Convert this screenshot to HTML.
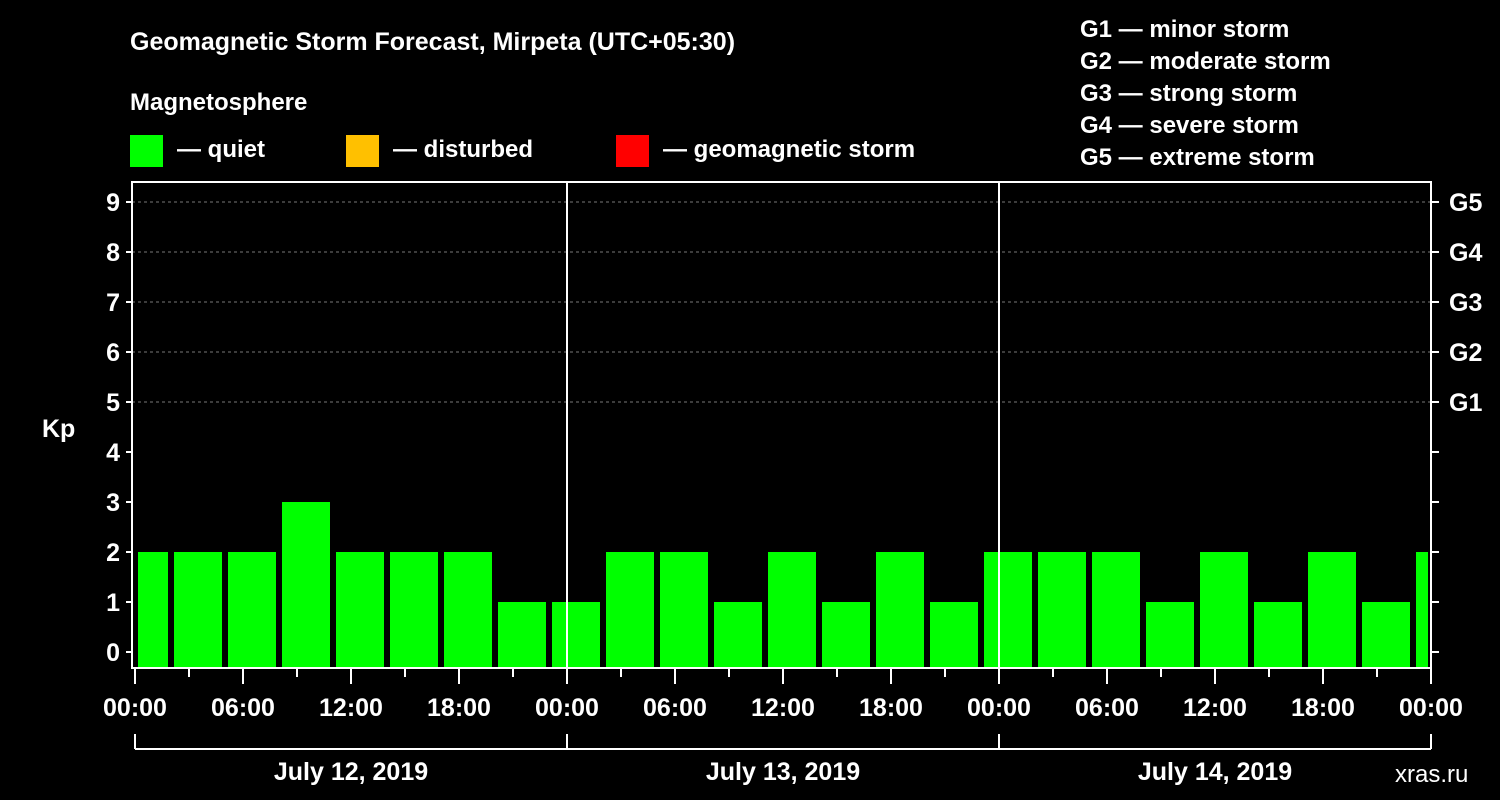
<!DOCTYPE html>
<html><head><meta charset="utf-8"><style>
body{margin:0;background:#000;}
svg{display:block;font-family:"Liberation Sans",sans-serif;font-weight:bold;}
</style></head><body>
<svg id="c" width="1500" height="800" viewBox="0 0 1500 800">
<rect width="1500" height="800" fill="#000"/>
<text x="130" y="50" fill="#fff" font-size="25">Geomagnetic Storm Forecast, Mirpeta (UTC+05:30)</text>
<text x="130" y="110" fill="#fff" font-size="24">Magnetosphere</text>
<g><rect x="130" y="135" width="33" height="32" fill="#00ff00"/><text x="177" y="157" fill="#fff" font-size="24">— quiet</text></g>
<g><rect x="346" y="135" width="33" height="32" fill="#ffc000"/><text x="393" y="157" fill="#fff" font-size="24">— disturbed</text></g>
<g><rect x="616" y="135" width="33" height="32" fill="#ff0000"/><text x="663" y="157" fill="#fff" font-size="24">— geomagnetic storm</text></g>
<g fill="#fff" font-size="24">
<text x="1080" y="37">G1 — minor storm</text>
<text x="1080" y="69">G2 — moderate storm</text>
<text x="1080" y="101">G3 — strong storm</text>
<text x="1080" y="133">G4 — severe storm</text>
<text x="1080" y="165">G5 — extreme storm</text>
</g>
<text x="42" y="437" fill="#fff" font-size="25">Kp</text>
<text x="1395" y="782" fill="#fff" font-size="24" font-weight="normal">xras.ru</text>
<g id="g"></g>
</svg>
<script>
const kpValues=[2,2,2,3,2,2,2,1,1,2,2,1,2,1,2,1,2,2,2,1,2,1,2,1,2];
const barStartHours=[0,2,5,8,11,14,17,20,23,26,29,32,35,38,41,44,47,50,53,56,59,62,65,68,71];
const barEndHours=[2,5,8,11,14,17,20,23,26,29,32,35,38,41,44,47,50,53,56,59,62,65,68,71,72];
const yTicks=[0,1,2,3,4,5,6,7,8,9];
const gLabels={5:"G1",6:"G2",7:"G3",8:"G4",9:"G5"};
const xTickLabels=["00:00","06:00","12:00","18:00","00:00","06:00","12:00","18:00","00:00","06:00","12:00","18:00","00:00"];
const dayLabels=["July 12, 2019","July 13, 2019","July 14, 2019"];
const L=132,R=1431,T=182,B=668;
const x0=135,pxH=18;
const X=h=>x0+h*pxH;
const Y=k=>652-k*50;
const ns="http://www.w3.org/2000/svg";
const g=document.getElementById('g');
function mk(t,a,p){const e=document.createElementNS(ns,t);for(const k in a)e.setAttribute(k,a[k]);(p||g).appendChild(e);return e;}
// grid
for(let k=5;k<=9;k++){mk('line',{x1:L,x2:R,y1:Y(k),y2:Y(k),stroke:'#777','stroke-dasharray':'3,3'});}
// bars
kpValues.forEach((v,i)=>{
 const xs=Math.max(X(barStartHours[i])+3,L+4),xe=Math.min(X(barEndHours[i])-3,R-3);
 const r=mk('rect',{x:xs,y:Y(v),width:xe-xs,height:B-Y(v),fill:v>=5?'#ff0000':(v>=4?'#ffc000':'#00ff00')});
 
 
});
// day separators
[24,48].forEach(h=>mk('line',{x1:X(h),x2:X(h),y1:T,y2:B,stroke:'#fff','stroke-width':2}));
// frame
const fr=mk('rect',{x:L,y:T,width:R-L,height:B-T,fill:'none',stroke:'#fff','stroke-width':2});


// y ticks
yTicks.forEach(k=>{
 mk('line',{x1:L-6,x2:L,y1:Y(k),y2:Y(k),stroke:'#fff','stroke-width':2});
 mk('line',{x1:R,x2:R+8,y1:Y(k),y2:Y(k),stroke:'#fff','stroke-width':2});
 const t=mk('text',{x:L-12,y:Y(k)+9,fill:'#fff','font-size':25,'text-anchor':'end'});t.textContent=k;
 
 
 if(gLabels[k]){const u=mk('text',{x:R+18,y:Y(k)+9,fill:'#fff','font-size':25});u.textContent=gLabels[k];
 
 }
});
// x ticks
for(let h=0;h<=72;h+=3){const maj=h%6==0;mk('line',{x1:X(h),x2:X(h),y1:B,y2:B+(maj?16:9),stroke:'#fff','stroke-width':2});}
xTickLabels.forEach((s,i)=>{const t=mk('text',{x:X(i*6),y:716,fill:'#fff','font-size':25,'text-anchor':'middle'});t.textContent=s;
 
 });
// day bracket
mk('line',{x1:X(0),x2:X(72),y1:749,y2:749,stroke:'#fff','stroke-width':2});
[0,24,48,72].forEach(h=>mk('line',{x1:X(h),x2:X(h),y1:734,y2:749,stroke:'#fff','stroke-width':2}));
dayLabels.forEach((s,i)=>{const t=mk('text',{x:X(i*24+12),y:780,fill:'#fff','font-size':25,'text-anchor':'middle'});t.textContent=s;
 
 });
</script>
</body></html>
